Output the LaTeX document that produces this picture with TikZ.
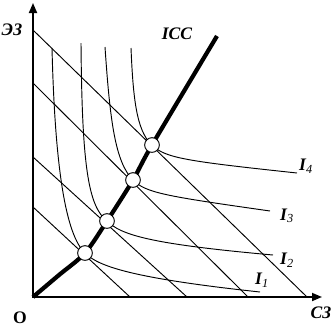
\documentclass[tikz,border=0pt]{standalone}
\usepackage{fontspec}
\setmainfont{Liberation Serif}
\usepackage{tikz}
\usetikzlibrary{arrows.meta,positioning}
\tikzset{
  eje/.style={
    {Triangle[length=3mm,width=2.4mm]}-{Triangle[length=3mm,width=2.4mm]},
    line width=1.5pt
  },
  recta/.style={
    line width=0.8pt
  },
  curva/.style={
    line width=0.8pt
  },
  icc/.style={
    line width=3.6pt
  },
  punto/.style={
    circle,
    draw,
    fill=white,
    line width=0.8pt,
    minimum size=4.4mm,
    inner sep=0pt
  },
  rotulo/.style={
    font=\fontsize{15}{17}\selectfont\bfseries\itshape,
    inner sep=1pt
  }
}

\begin{document}
\begin{tikzpicture}[x=0.3mm,y=-0.3mm]
\useasboundingbox (0,0) rectangle (333,326);
% ejes
\coordinate (O) at (33,297);
\coordinate (ytop) at (33,3);
\coordinate (xend) at (322,297);
% puntos de equilibrio
\coordinate (c1) at (85,253);
\coordinate (c2) at (107,221);
\coordinate (c3) at (133,180);
\coordinate (c4) at (152,145);
% rectas de presupuesto
\coordinate (a1) at (33,207); \coordinate (b1) at (130,297);
\coordinate (a2) at (33,157); \coordinate (b2) at (187,297);
\coordinate (a3) at (33,83);  \coordinate (b3) at (248,297);
\coordinate (a4) at (33,30);  \coordinate (b4) at (307,297);
\draw[recta] (a1) -- (b1);
\draw[recta] (a2) -- (b2);
\draw[recta] (a3) -- (b3);
\draw[recta] (a4) -- (b4);
% curvas de indiferencia
\coordinate (t1) at (52,48);  \coordinate (f1) at (260,292);
\coordinate (t2) at (81,43);  \coordinate (f2) at (273,255);
\coordinate (t3) at (105,47); \coordinate (f3) at (270,211);
\coordinate (t4) at (131,48); \coordinate (f4) at (297,173);
\draw[curva] (t1) .. controls (55,170) and (66,235) .. (c1)
  .. controls (98,266) and (130,278) .. (f1);
\draw[curva] (t2) .. controls (82,165) and (88,206) .. (c2)
  .. controls (121,235) and (150,244) .. (f2);
\draw[curva] (t3) .. controls (110,120) and (115,162) .. (c3)
  .. controls (146,193) and (165,196) .. (f3);
\draw[curva] (t4) .. controls (133,95) and (136,131) .. (c4)
  .. controls (165,158) and (185,161) .. (f4);
% ICC
\coordinate (g) at (217,36);
\draw[icc] plot[smooth] coordinates {(O) (59,275) (c1) (c2) (c3) (c4) (g)};
\draw[eje] (ytop) -- (O) -- (xend);
\node[punto] (e1) at (c1) {};
\node[punto] (e2) at (c2) {};
\node[punto] (e3) at (c3) {};
\node[punto] (e4) at (c4) {};
% rotulos
\node[rotulo] (ez) at (12,30) {ЭЗ};
\node[rotulo,font=\fontsize{15}{17}\selectfont\bfseries] (o) at (20,318) {О};
\node[rotulo] (sz) at (321,313) {СЗ};
\node[rotulo] (icclab) at (177,34) {ICC};
\node[rotulo] (i4) at (306,166) {I\textsubscript{\mdseries 4}};
\node[rotulo] (i3) at (287,216) {I\textsubscript{\mdseries 3}};
\node[rotulo] (i2) at (287,260) {I\textsubscript{\mdseries 2}};
\node[rotulo] (i1) at (262,280) {I\textsubscript{\mdseries 1}};
\end{tikzpicture}
\end{document}
